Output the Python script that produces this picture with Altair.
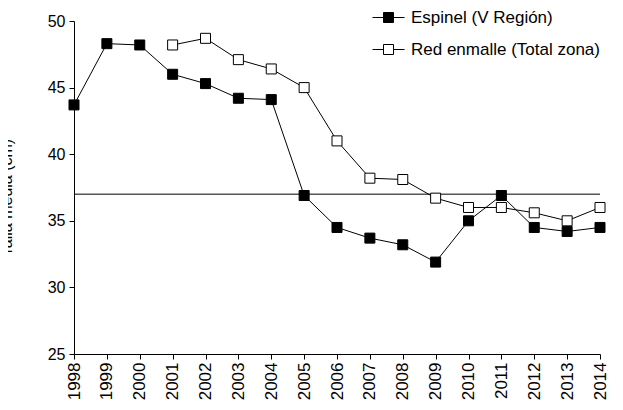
import altair as alt
import pandas as pd

years = list(range(1998, 2015))
espinel = [43.7, 48.3, 48.2, 46.0, 45.3, 44.2, 44.1, 36.9, 34.5, 33.7, 33.2, 31.9, 35.0, 36.9, 34.5, 34.2, 34.5]
red_years = list(range(2001, 2015))
red = [48.2, 48.7, 47.1, 46.4, 45.0, 41.0, 38.2, 38.1, 36.7, 36.0, 36.0, 35.6, 35.0, 36.0]
series = ["Espinel (V Región)", "Red enmalle (Total zona)"]
reference_value = 37.0
y_ticks = [25, 30, 35, 40, 45, 50]

df = pd.concat([
    pd.DataFrame({"year": years, "value": espinel, "serie": series[0]}),
    pd.DataFrame({"year": red_years, "value": red, "serie": series[1]}),
])

FONT = "Liberation Sans"

x = alt.X("year:Q",
          scale=alt.Scale(domain=[1998, 2014], nice=False, zero=False),
          axis=alt.Axis(values=years, format="d", labelAngle=270, title=None,
                        labelFontSize=17, labelPadding=3, grid=False))
y = alt.Y("value:Q",
          scale=alt.Scale(domain=[25, 50], nice=False, zero=False),
          axis=alt.Axis(values=y_ticks, title="Talla media (cm)", titleFontSize=16,
                        titleFontWeight="normal", titleX=-63, titleY=176,
                        titleBaseline="alphabetic", titleAngle=270,
                        labelFontSize=16, labelPadding=4, grid=False))

base = alt.Chart(df)

rule = alt.Chart(pd.DataFrame({"v": [reference_value]})).mark_rule(
    color="black", strokeWidth=1
).encode(y=alt.Y("v:Q", scale=alt.Scale(domain=[25, 50])))

lines = base.mark_line(color="black", strokeWidth=1).encode(
    x=x, y=y, detail="serie:N", order="year:Q"
)

legend_symbol = "M-1,0H-0.3125M0.3125,0H1M-0.3125,-0.3125H0.3125V0.3125H-0.3125Z"

points = base.mark_point(shape="square", size=100, filled=True, stroke="black",
                         strokeWidth=1, opacity=1).encode(
    x=x, y=y,
    fill=alt.Fill("serie:N",
                  scale=alt.Scale(domain=series, range=["black", "white"]),
                  legend=alt.Legend(title=None, orient="none", legendX=298, legendY=-20,
                                    symbolType=legend_symbol, symbolSize=1024,
                                    symbolStrokeColor="black", symbolStrokeWidth=1,
                                    labelFontSize=17, labelOffset=6, rowPadding=7,
                                    labelLimit=0,
                                    labelFont=FONT, labelColor="black"))
)

chart = alt.layer(rule, lines, points).properties(
    width=526, height=333,
    autosize="none",
    padding={"left": 66, "top": 13, "right": 15, "bottom": 52},
).configure_view(stroke=None).configure_axis(
    domainColor="black", tickColor="black", labelColor="black", titleColor="black",
    labelFont=FONT, titleFont=FONT, tickSize=5, domainWidth=1, tickWidth=1
).configure_legend(labelFont=FONT)

chart.save("out.html", embed_options={"renderer": "svg", "actions": False})
